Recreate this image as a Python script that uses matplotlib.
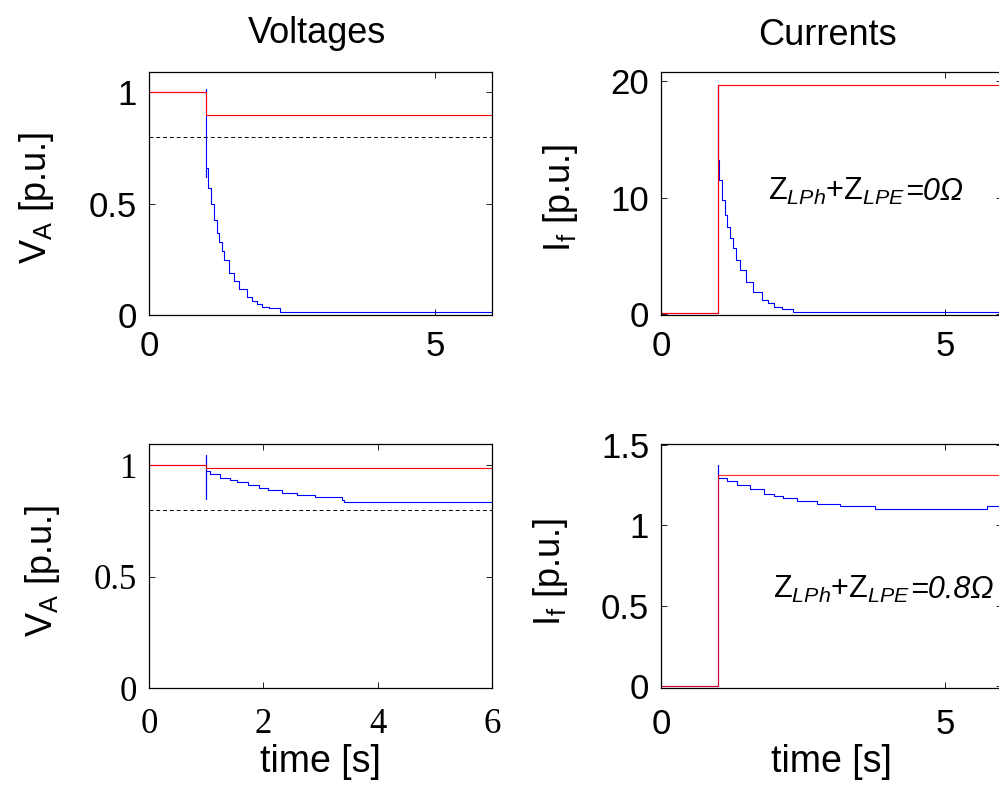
import matplotlib
matplotlib.use("Agg")
import matplotlib.pyplot as plt
from matplotlib.transforms import IdentityTransform

plt.rcParams['font.family'] = ['Liberation Sans', 'DejaVu Sans']
plt.rcParams['mathtext.fontset'] = 'custom'
plt.rcParams['mathtext.rm'] = 'Liberation Sans'
plt.rcParams['mathtext.it'] = 'Liberation Sans:italic'
plt.rcParams['mathtext.bf'] = 'Liberation Sans:bold'

# ---- data (time in s, values in p.u.) ----
# case 1: Z_LPh + Z_LPE = 0 ohm
t_va1 = [0, 1.0, 1.0, 1.0, 1.0, 1.04, 1.084, 1.13, 1.19, 1.23, 1.277, 1.306,
         1.394, 1.48, 1.57, 1.717, 1.805, 1.893, 1.98, 2.095, 2.3, 6.0]
va1 = [1.0, 1.0, 1.013, 0.62, 0.66, 0.57, 0.50, 0.428, 0.369, 0.327, 0.287,
       0.246, 0.187, 0.152, 0.118, 0.082, 0.063, 0.051, 0.037, 0.030, 0.012, 0.012]
t_va1_ref = [0, 1.0, 6.0]
va1_ref = [1.0, 0.898, 0.898]

t_if1 = [0, 1.0, 1.0, 1.0, 1.021, 1.08, 1.127, 1.168, 1.215, 1.262, 1.32, 1.39,
         1.497, 1.626, 1.773, 1.89, 1.98, 2.13, 2.33, 6.0]
if1 = [0.1, 0.1, 19.7, 13.25, 11.5, 9.8, 8.5, 7.5, 6.5, 5.64, 4.63, 3.77,
       2.76, 1.90, 1.18, 0.90, 0.60, 0.43, 0.12, 0.12]
t_if1_ref = [0, 1.0, 6.0]
if1_ref = [0.1, 19.7, 19.7]

# case 2: Z_LPh + Z_LPE = 0.8 ohm
t_va2 = [0, 1.0, 1.0, 1.0, 1.0, 1.07, 1.245, 1.42, 1.54, 1.74, 1.92, 2.09,
         2.33, 2.59, 2.91, 3.38, 3.41, 6.0]
va2 = [1.0, 1.0, 1.048, 0.849, 0.976, 0.962, 0.946, 0.935, 0.925, 0.913,
       0.901, 0.890, 0.878, 0.868, 0.857, 0.845, 0.838, 0.838]
t_va2_ref = [0, 1.0, 6.0]
va2_ref = [1.0, 0.99, 0.99]

t_if2 = [0, 1.0, 1.0, 1.0, 1.01, 1.16, 1.34, 1.57, 1.81, 1.98, 2.15, 2.39,
         2.74, 3.15, 3.77, 5.73, 6.0]
if2 = [0.0, 0.0, 1.374, 1.30, 1.296, 1.275, 1.248, 1.223, 1.196, 1.182,
       1.167, 1.150, 1.134, 1.117, 1.102, 1.119, 1.119]
t_if2_ref = [0, 1.0, 6.0]
if2_ref = [0.0, 1.31, 1.31]

v_limit = 0.8

W, H = 999, 785
fig = plt.figure(figsize=(W / 100, H / 100), dpi=100)


def px_axes(left, top, right, bottom):
    # axes rectangle given in pixel coords of the reference picture
    return fig.add_axes([left / W, 1 - bottom / H, (right - left) / W, (bottom - top) / H])


def style(ax, xpad, ypad):
    ax.tick_params(direction='in', top=True, right=True, length=4, width=0.6,
                   labelsize=25, pad=ypad)
    ax.tick_params(axis='x', pad=xpad)
    for s in ax.spines.values():
        s.set_linewidth(0.9)


def impedance_label(ax, x, y, value):
    # "Z_LPh+Z_LPE" upright with italic subscripts, then "=value Ω" italic
    first = ax.text(x, y, r'Z$_{LPh}$+Z$_{LPE}$', fontsize=22, ha='left', va='baseline')
    fig.canvas.draw()
    bb = first.get_window_extent()
    _, y_disp = ax.transData.transform((x, y))
    fig.text(bb.x1, y_disp, '=' + value + 'Ω', fontsize=22, fontstyle='italic',
             ha='left', va='baseline', transform=IdentityTransform())


ax1 = px_axes(149, 71.7, 492, 315)
ax2 = px_axes(661, 71.7, 1002, 315)
ax3 = px_axes(149, 444.3, 492, 688.3)
ax4 = px_axes(661, 444.3, 1002, 688.3)

# top left: voltage, case 1
ax1.step(t_va1, va1, where='post', color='#0000ff', lw=0.8)
ax1.step(t_va1_ref, va1_ref, where='post', color='#ff0000', lw=0.8)
ax1.axhline(v_limit, color='k', lw=0.7, ls=(0, (4, 3)))
ax1.set_xlim(0, 6)
ax1.set_ylim(0, 1.092)
ax1.set_xticks([0, 5])
ax1.set_xticklabels(['0', '5'])
ax1.set_yticks([0, 0.5, 1])
ax1.set_yticklabels(['0', '0.5', '1'])
style(ax1, 10.5, 8.5)

# top right: current, case 1
ax2.step(t_if1, if1, where='post', color='#0000ff', lw=0.8)
ax2.step(t_if1_ref, if1_ref, where='post', color='#ff0000', lw=0.8)
ax2.set_xlim(0, 6)
ax2.set_ylim(-0.1, 20.83)
ax2.set_xticks([0, 5])
ax2.set_xticklabels(['0', '5'])
ax2.set_yticks([0, 10, 20])
ax2.set_yticklabels(['0', '10', '20'])
style(ax2, 10.5, 8.5)

# bottom left: voltage, case 2 (serif tick labels)
ax3.step(t_va2, va2, where='post', color='#0000ff', lw=0.8)
ax3.step(t_va2_ref, va2_ref, where='post', color='#ff0000', lw=0.8)
ax3.axhline(v_limit, color='k', lw=0.7, ls=(0, (4, 3)))
ax3.set_xlim(0, 6)
ax3.set_ylim(0, 1.095)
ax3.set_xticks([0, 2, 4, 6])
ax3.set_xticklabels(['0', '2', '4', '6'], fontfamily='Liberation Serif')
ax3.set_yticks([0, 0.5, 1])
ax3.set_yticklabels(['0', '0.5', '1'], fontfamily='Liberation Serif')
style(ax3, 14, 8.5)
ax3.set_xlabel('time [s]', fontsize=27, labelpad=2)

# bottom right: current, case 2
ax4.step(t_if2, if2, where='post', color='#0000ff', lw=0.8)
ax4.step(t_if2_ref, if2_ref, where='post', color='#ff0000', lw=0.8, alpha=0.85)
ax4.set_xlim(0, 6)
ax4.set_ylim(-0.015, 1.504)
ax4.set_xticks([0, 5])
ax4.set_xticklabels(['0', '5'])
ax4.set_yticks([0, 0.5, 1, 1.5])
ax4.set_yticklabels(['0', '0.5', '1', '1.5'])
style(ax4, 14, 8.5)
ax4.set_xlabel('time [s]', fontsize=27, labelpad=2)

# y labels and column titles placed where they sit in the picture
ylab_va = r'V$_\mathregular{A}$ [p.u.]'
ylab_if = r'I$_\mathregular{f}$ [p.u.]'
fig.text(37 / W, 1 - 197.5 / H, ylab_va, fontsize=26, rotation=90, ha='center', va='center')
fig.text(560 / W, 1 - 198 / H, ylab_if, fontsize=26, rotation=90, ha='center', va='center')
fig.text(43 / W, 1 - 570.5 / H, ylab_va, fontsize=26, rotation=90, ha='center', va='center')
fig.text(550 / W, 1 - 572 / H, ylab_if, fontsize=26, rotation=90, ha='center', va='center')

fig.text(317 / W, 1 - 43.3 / H, 'Voltages', fontsize=26, ha='center', va='baseline')
fig.text(827.5 / W, 1 - 45 / H, 'Currents', fontsize=26, ha='center', va='baseline')

impedance_label(ax2, 1.884, 9.8, '0')
impedance_label(ax4, 1.97, 0.547, '0.8')

fig.savefig('out.png', dpi=100)
